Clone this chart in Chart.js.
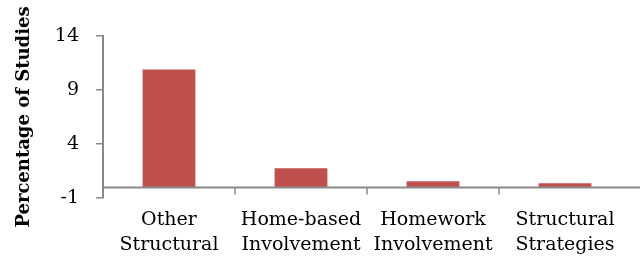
<!DOCTYPE html>
<html>
<head>
<meta charset="utf-8">
<script src="https://cdn.jsdelivr.net/npm/chart.js@4"></script>
<style>
  html, body { margin: 0; padding: 0; background: #fff; }
</style>
</head>
<body>
<canvas id="chart" width="640" height="258"></canvas>
<script>
// data
const categories = [['Other', 'Structural'], ['Home-based', 'Involvement'], ['Homework', 'Involvement'], ['Structural', 'Strategies']];
const values = [10.9, 1.75, 0.55, 0.37];
const yTicks = [-1, 4, 9, 14];

const axisGray = '#898989';

// zero line with category tick marks hanging below it
const zeroAxis = {
    id: 'zeroAxis',
    afterDatasetsDraw(chart) {
        const x = chart.scales.x, y = chart.scales.y;
        const ctx = chart.ctx;
        const y0 = Math.round(y.getPixelForValue(0)) + 0.5;
        ctx.save();
        ctx.strokeStyle = axisGray;
        ctx.lineWidth = 2;
        ctx.beginPath();
        ctx.moveTo(chart.chartArea.left, y0);
        ctx.lineTo(chart.width, y0);
        ctx.stroke();
        ctx.lineWidth = 1.5;
        ctx.beginPath();
        for (let i = 1; i < categories.length; i++) {
            const px = Math.round((x.getPixelForValue(i - 1) + x.getPixelForValue(i)) / 2);
            ctx.moveTo(px, y0);
            ctx.lineTo(px, y0 + 7);
        }
        ctx.stroke();
        ctx.restore();
    }
};

new Chart(document.getElementById('chart'), {
    type: 'bar',
    data: {
        labels: categories,
        datasets: [{
            data: values,
            backgroundColor: '#C0504D',
            borderWidth: 0,
            barPercentage: 0.4,
            categoryPercentage: 1
        }]
    },
    options: {
        responsive: false,
        animation: false,
        layout: { padding: { top: 36, right: 9, left: 0, bottom: 0 } },
        plugins: {
            legend: { display: false },
            tooltip: { enabled: false }
        },
        scales: {
            x: {
                afterFit(scale) {
                    scale.height = 60;
                },
                grid: { display: false },
                border: { display: false },
                ticks: {
                    color: '#000',
                    font: { family: 'DejaVu Serif', size: 19, lineHeight: 1.35 },
                    padding: 1,
                    maxRotation: 0,
                    autoSkip: false
                }
            },
            y: {
                min: -1,
                max: 14,
                afterBuildTicks(scale) {
                    scale.ticks = yTicks.map(v => ({ value: v }));
                },
                afterFit(scale) {
                    scale.width = 103;
                },
                grid: {
                    drawOnChartArea: false,
                    color: axisGray,
                    lineWidth: 1.5,
                    tickLength: 7
                },
                border: { color: axisGray, width: 2 },
                ticks: {
                    color: '#000',
                    font: { family: 'DejaVu Serif', size: 19 },
                    padding: 17
                },
                title: {
                    display: true,
                    text: 'Percentage of Studies',
                    color: '#000',
                    font: { family: 'DejaVu Serif', size: 18, weight: 'bold' },
                    padding: { top: 14, bottom: 0 }
                }
            }
        }
    },
    plugins: [zeroAxis]
});
</script>
</body>
</html>
